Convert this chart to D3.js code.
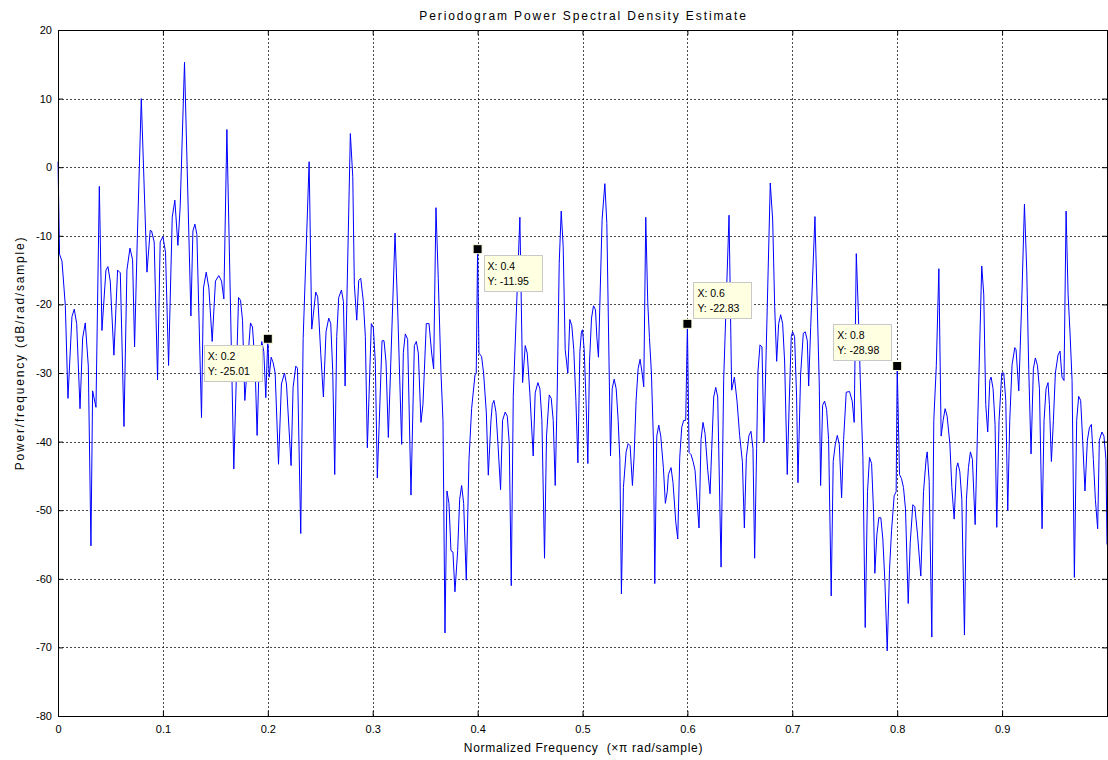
<!DOCTYPE html>
<html><head><meta charset="utf-8">
<script src="https://cdn.jsdelivr.net/npm/d3@7"></script>
<style>body{margin:0;background:#fff}svg{display:block}text{font-family:Arial,"Liberation Sans",Helvetica,sans-serif}</style>
</head><body><svg id="c" width="1108" height="760"></svg>
<script>
const chartTitle = "Periodogram Power Spectral Density Estimate";
const xLabel = "Normalized Frequency \u00A0(\u00D7\u03C0 rad/sample)";
const yLabel = "Power/frequency (dB/rad/sample)";
const xTicks = [0, 0.1, 0.2, 0.3, 0.4, 0.5, 0.6, 0.7, 0.8, 0.9];
const yTicks = [20, 10, 0, -10, -20, -30, -40, -50, -60, -70, -80];
const tipX = [0.2, 0.4, 0.6, 0.8];
const tipY = [-25.01, -11.95, -22.83, -28.98];
const tipSide = ["left-below", "right-below", "right-above", "left-above"];
// [normalized frequency, dB]
const psdPoints = [
[0.0000,0.8],[0.0015,-12.7],[0.0038,-13.7],[0.0070,-20.2],[0.0095,-33.7],[0.0133,-21.8],[0.0155,-20.7],[0.0178,-22.8],[0.0210,-35.2],[0.0235,-24.9],
[0.0260,-22.7],[0.0289,-29.0],[0.0314,-55.2],[0.0330,-32.6],[0.0362,-35.0],[0.0394,-2.8],[0.0419,-23.8],[0.0457,-15.0],[0.0476,-14.5],[0.0498,-16.6],
[0.0533,-27.4],[0.0568,-15.0],[0.0594,-15.4],[0.0629,-37.8],[0.0657,-15.0],[0.0686,-11.8],[0.0711,-13.5],[0.0730,-26.2],[0.0756,-10.4],[0.0794,10.0],
[0.0848,-15.3],[0.0879,-9.2],[0.0892,-9.3],[0.0917,-10.9],[0.0949,-31.0],[0.0974,-10.9],[0.1000,-10.1],[0.1025,-12.4],[0.1054,-28.9],[0.1089,-7.3],
[0.1114,-4.8],[0.1143,-11.4],[0.1165,-5.7],[0.1206,15.3],[0.1267,-21.7],[0.1286,-9.3],[0.1305,-8.3],[0.1324,-9.8],[0.1368,-36.5],[0.1387,-17.6],
[0.1413,-15.3],[0.1438,-17.6],[0.1470,-25.4],[0.1501,-16.6],[0.1533,-15.8],[0.1559,-16.6],[0.1581,-19.2],[0.1610,5.5],
[0.1676,-44.0],[0.1721,-19.0],[0.1740,-19.4],[0.1759,-22.3],[0.1781,-34.0],[0.1835,-22.7],[0.1854,-23.3],[0.1879,-29.0],[0.1898,-39.1],[0.1917,-29.0],
[0.1943,-25.4],[0.1962,-26.9],[0.1981,-33.6],[0.2000,-25.01],[0.2013,-30.6],[0.2032,-27.7],[0.2051,-28.5],[0.2070,-30.0],[0.2102,-43.3],[0.2130,-31.6],
[0.2159,-30.0],[0.2178,-31.6],[0.2222,-43.5],[0.2241,-32.1],[0.2267,-29.0],[0.2283,-29.3],[0.2314,-53.4],[0.2337,-25.0],[0.2394,0.8],[0.2419,-23.6],
[0.2457,-18.2],[0.2476,-18.9],
[0.2505,-27.2],[0.2530,-33.5],[0.2555,-24.0],[0.2581,-22.0],[0.2600,-22.8],[0.2619,-29.7],[0.2638,-44.8],[0.2657,-24.7],[0.2676,-19.0],[0.2702,-17.9],
[0.2721,-19.6],[0.2737,-31.9],[0.2787,4.9],[0.2810,-1.4],[0.2825,-17.1],[0.2848,-22.3],[0.2867,-16.5],[0.2886,-16.2],[0.2911,-19.6],[0.2930,-24.7],
[0.2949,-40.9],[0.2987,-22.8],[0.3006,-23.4],[0.3025,-28.4],[0.3044,-45.3],[0.3089,-25.3],[0.3108,-25.3],[0.3127,-28.4],[0.3149,-39.4],[0.3213,-9.6],
[0.3241,-22.1],[0.3276,-40.4],[0.3292,-27.0],[0.3311,-24.3],
[0.3333,-25.1],[0.3365,-47.8],[0.3397,-26.0],[0.3416,-25.4],[0.3435,-27.1],[0.3460,-37.2],[0.3479,-34.6],[0.3511,-22.8],[0.3537,-22.8],[0.3562,-27.1],
[0.3581,-29.4],[0.3603,-5.9],[0.3625,-16.2],[0.3651,-30.0],[0.3670,-36.9],[0.3689,-67.9],[0.3708,-47.2],[0.3727,-49.0],[0.3746,-55.9],[0.3765,-56.1],
[0.3784,-61.9],[0.3810,-55.9],[0.3829,-48.4],[0.3848,-46.4],[0.3867,-49.0],[0.3892,-60.2],[0.3918,-42.6],[0.3943,-35.2],[0.3975,-30.3],[0.3987,-30.0],
[0.4000,-11.95],[0.4013,-27.1],[0.4038,-27.6],[0.4057,-30.0],[0.4083,-35.7],[0.4102,-44.9],[0.4127,-37.0],
[0.4140,-34.6],[0.4156,-34.0],[0.4175,-35.7],[0.4194,-40.3],[0.4219,-47.0],[0.4238,-36.9],[0.4263,-35.7],[0.4283,-36.3],[0.4302,-40.3],[0.4321,-61.0],
[0.4340,-33.4],[0.4403,-7.3],[0.4429,-31.4],[0.4454,-26.0],[0.4473,-27.1],[0.4498,-32.9],[0.4530,-42.1],[0.4549,-32.9],[0.4575,-31.4],[0.4594,-32.3],
[0.4613,-36.9],[0.4638,-57.0],[0.4657,-39.2],[0.4683,-33.2],[0.4702,-33.7],[0.4721,-36.9],[0.4740,-46.4],[0.4759,-32.9],[0.4778,-14.0],[0.4797,-6.4],
[0.4816,-11.6],[0.4835,-26.6],[0.4860,-30.0],[0.4879,-22.2],[0.4898,-23.1],[0.4917,-26.6],[0.4937,-34.0],[0.4956,-43.1],[0.4975,-26.9],
[0.4990,-24.0],[0.5000,-23.7],[0.5016,-26.6],[0.5035,-34.6],[0.5051,-43.2],[0.5067,-28.3],[0.5086,-22.0],[0.5105,-20.2],[0.5124,-20.8],[0.5137,-24.8],
[0.5152,-27.7],[0.5187,-7.6],[0.5213,-2.4],[0.5232,-8.2],[0.5267,-42.1],[0.5283,-32.3],[0.5302,-30.9],[0.5321,-32.3],[0.5340,-36.9],[0.5356,-42.6],
[0.5371,-62.2],[0.5390,-46.7],[0.5416,-41.5],[0.5435,-40.3],[0.5454,-40.6],[0.5476,-46.4],[0.5492,-42.1],[0.5511,-34.0],[0.5530,-29.4],[0.5549,-28.0],
[0.5568,-30.0],[0.5584,-32.0],[0.5603,-7.3],[0.5622,-19.7],[0.5638,-24.8],[0.5657,-30.0],[0.5676,-39.8],[0.5689,-60.7],[0.5708,-39.2],[0.5727,-37.6],
[0.5746,-39.2],[0.5771,-43.8],[0.5790,-49.0],
[0.5808,-47.3],[0.5819,-44.8],[0.5844,-43.8],[0.5863,-46.0],[0.5889,-51.7],[0.5908,-54.2],[0.5927,-42.3],[0.5946,-37.9],[0.5965,-36.9],[0.5984,-36.9],
[0.6000,-22.83],[0.6016,-41.6],[0.6035,-41.9],[0.6054,-42.9],[0.6073,-44.2],[0.6092,-48.6],[0.6111,-52.6],[0.6130,-39.7],[0.6149,-37.2],[0.6168,-38.8],
[0.6194,-44.2],[0.6216,-47.6],[0.6232,-41.0],[0.6251,-33.5],[0.6270,-32.1],[0.6289,-33.5],[0.6321,-58.3],[0.6346,-30.9],[0.6397,-7.0],[0.6422,-32.5],
[0.6448,-30.6],[0.6473,-34.1],[0.6498,-39.1],[0.6524,-42.9],[0.6543,-52.6],[0.6562,-42.3],[0.6587,-39.1],[0.6606,-38.5],[0.6625,-41.0],
[0.6641,-57.0],[0.6660,-41.0],[0.6673,-29.7],[0.6692,-25.9],[0.6711,-26.2],[0.6730,-40.1],[0.6790,-2.3],[0.6813,-7.7],[0.6832,-20.3],[0.6851,-28.3],
[0.6870,-22.8],[0.6889,-21.5],[0.6908,-22.8],[0.6927,-28.4],[0.6952,-44.8],[0.6971,-34.1],[0.6990,-24.7],[0.7003,-24.0],[0.7022,-24.7],[0.7041,-33.5],
[0.7054,-46.0],[0.7079,-30.3],[0.7105,-24.2],[0.7124,-24.0],[0.7143,-25.3],[0.7156,-31.9],[0.7175,-23.4],[0.7216,-7.2],[0.7238,-20.3],[0.7257,-31.6],
[0.7270,-46.4],[0.7289,-34.7],[0.7308,-34.1],[0.7327,-35.3],[0.7346,-39.7],[0.7371,-62.5],[0.7390,-42.9],[0.7410,-40.4],[0.7429,-39.1],[0.7448,-40.4],
[0.7470,-48.2],[0.7489,-39.7],[0.7514,-32.8],[0.7546,-32.7],[0.7571,-34.1],[0.7590,-37.2],[0.7610,-12.6],[0.7629,-20.9],[0.7648,-30.9],[0.7673,-42.3],
[0.7695,-67.1],[0.7717,-47.3],[0.7736,-42.3],[0.7756,-43.2],[0.7775,-50.4],[0.7787,-59.2],[0.7806,-53.6],[0.7825,-51.1],[0.7844,-51.1],[0.7863,-54.2],
[0.7883,-60.5],[0.7905,-70.5],[0.7927,-58.6],[0.7946,-53.0],[0.7971,-47.9],[0.7990,-47.3],[0.8000,-28.98],[0.8022,-44.8],[0.8041,-45.4],[0.8060,-46.7],
[0.8079,-49.8],[0.8105,-63.6],[0.8124,-54.8],[0.8149,-49.2],[0.8168,-49.5],[0.8194,-53.6],[0.8225,-59.6],[0.8251,-47.3],[0.8276,-42.5],[0.8286,-41.5],
[0.8305,-45.8],
[0.8330,-68.5],[0.8349,-36.9],[0.8373,-28.9],[0.8397,-14.8],[0.8419,-39.2],[0.8438,-36.9],[0.8457,-35.2],[0.8476,-36.3],[0.8502,-40.3],[0.8521,-46.7],
[0.8543,-51.3],[0.8565,-43.8],[0.8578,-43.1],[0.8597,-44.4],[0.8616,-48.4],[0.8641,-68.2],[0.8660,-48.4],[0.8679,-43.8],[0.8698,-41.5],[0.8717,-42.6],
[0.8743,-52.1],[0.8768,-36.9],[0.8806,-14.4],[0.8825,-18.5],[0.8844,-34.6],[0.8863,-38.6],[0.8883,-31.1],[0.8895,-30.6],[0.8914,-32.3],[0.8933,-37.5],
[0.8949,-52.5],[0.8971,-36.9],[0.8997,-30.0],[0.9016,-30.0],[0.9035,-34.0],[0.9054,-50.1],[0.9073,-36.9],[0.9095,-28.8],
[0.9121,-26.3],[0.9133,-26.6],[0.9159,-32.6],[0.9187,-19.7],[0.9213,-5.4],[0.9235,-15.1],[0.9254,-29.5],[0.9276,-41.8],[0.9298,-29.4],[0.9317,-27.8],
[0.9337,-28.9],[0.9356,-32.3],[0.9381,-52.7],[0.9400,-36.9],[0.9419,-32.3],[0.9438,-31.4],[0.9451,-34.6],[0.9470,-42.9],[0.9489,-36.9],[0.9508,-30.0],
[0.9533,-27.4],[0.9552,-26.8],[0.9571,-30.6],[0.9590,-31.1],[0.9610,-6.4],[0.9629,-18.5],[0.9648,-24.3],[0.9667,-31.1],[0.9689,-59.8],[0.9711,-36.9],
[0.9730,-33.4],[0.9749,-34.0],[0.9768,-39.8],[0.9790,-47.2],[0.9813,-39.8],[0.9832,-38.0],[0.9851,-37.5],[0.9870,-42.6],[0.9889,-48.4],[0.9911,-52.7],
[0.9927,-39.8],[0.9952,-38.6],[0.9971,-39.2],[0.9990,-42.6],[1.0000,-55.0]
];

const svg = d3.select("#c");
const m = {l: 58, r: 1107, t: 30, b: 716};
const x = d3.scaleLinear().domain([0, 1]).range([m.l, m.r]);
const y = d3.scaleLinear().domain([-80, 20]).range([m.b, m.t]);

svg.append("rect").attr("width", 1108).attr("height", 760).attr("fill", "#fff");

// grid
const grid = svg.append("g");
grid.selectAll("line.gx").data(xTicks.filter(v => v > 0)).join("line")
  .attr("x1", d => Math.round(x(d)) + 0.5).attr("x2", d => Math.round(x(d)) + 0.5)
  .attr("y1", m.t).attr("y2", m.b)
  .attr("stroke", "#000").attr("stroke-width", 1).attr("stroke-dasharray", "2,2").attr("opacity", 0.7);
grid.selectAll("line.gy").data(yTicks.filter(v => v > -80 && v < 20)).join("line")
  .attr("y1", d => Math.round(y(d)) + 0.5).attr("y2", d => Math.round(y(d)) + 0.5)
  .attr("x1", m.l).attr("x2", m.r)
  .attr("stroke", "#000").attr("stroke-width", 1).attr("stroke-dasharray", "2,2").attr("opacity", 0.7);

// line
svg.append("path").datum(psdPoints)
  .attr("fill", "none").attr("stroke", "#0000ff").attr("stroke-width", 1)
  .attr("d", d3.line().x(d => x(d[0])).y(d => y(d[1])));

// axes (MATLAB style: ticks inside, box)
const fontSize = 11;
const ax = svg.append("g").attr("transform", `translate(0,${m.b})`)
  .call(d3.axisBottom(x).tickValues(xTicks).tickSize(-5).tickPadding(9).tickFormat(d3.format("")));
const ay = svg.append("g").attr("transform", `translate(${m.l},0)`)
  .call(d3.axisLeft(y).tickValues(yTicks).tickSize(-5).tickPadding(6).tickFormat(d => d3.format("")(d).replace("\u2212", "-")));
const at = svg.append("g").attr("transform", `translate(0,${m.t})`)
  .call(d3.axisTop(x).tickValues(xTicks).tickSize(-5).tickFormat(""));
const ar = svg.append("g").attr("transform", `translate(${m.r},0)`)
  .call(d3.axisRight(y).tickValues(yTicks).tickSize(-5).tickFormat(""));
[ax, ay, at, ar].forEach(g => {
  g.select(".domain").attr("stroke", "#000");
  g.selectAll(".tick line").attr("stroke", "#000");
  g.selectAll("text").attr("font-size", fontSize).attr("fill", "#000")
    .attr("font-family", "Arial, 'Liberation Sans', sans-serif");
});

// titles
svg.append("text").attr("x", (m.l + m.r) / 2 + 1).attr("y", 20).attr("text-anchor", "middle")
  .attr("font-size", 12).attr("letter-spacing", "1.9px").text(chartTitle);
svg.append("text").attr("x", (m.l + m.r) / 2 + 1).attr("y", 752).attr("text-anchor", "middle")
  .attr("font-size", 12).attr("letter-spacing", "0.7px").text(xLabel);
svg.append("text").attr("transform", `translate(24,${(m.t + m.b) / 2 - 20}) rotate(-90)`)
  .attr("text-anchor", "middle").attr("font-size", 12).attr("letter-spacing", "1.8px").text(yLabel);

// data tips
const tipW = 58, tipH = 36;
tipX.forEach((tx, i) => {
  const px = x(tx), py = y(tipY[i]);
  const side = tipSide[i];
  const bx = side.startsWith("left") ? px - 6 - tipW : px + 6;
  const by = side.endsWith("below") ? py + 6 : py - 6 - tipH;
  const g = svg.append("g");
  g.append("rect").attr("x", Math.round(bx) + 0.5).attr("y", Math.round(by) + 0.5)
    .attr("width", tipW).attr("height", tipH)
    .attr("fill", "#ffffe1").attr("stroke", "#c8c8c8").attr("stroke-width", 1);
  g.append("text").attr("x", bx + 4).attr("y", by + 15).attr("font-size", 10.5).text("X: " + tx);
  g.append("text").attr("x", bx + 4).attr("y", by + 30).attr("font-size", 10.5).text("Y: " + tipY[i]);
  svg.append("rect").attr("x", px - 4.5).attr("y", py - 4.5).attr("width", 9).attr("height", 9)
    .attr("fill", "#000").attr("stroke", "#ffffe1").attr("stroke-width", 1);
});
</script></body></html>
